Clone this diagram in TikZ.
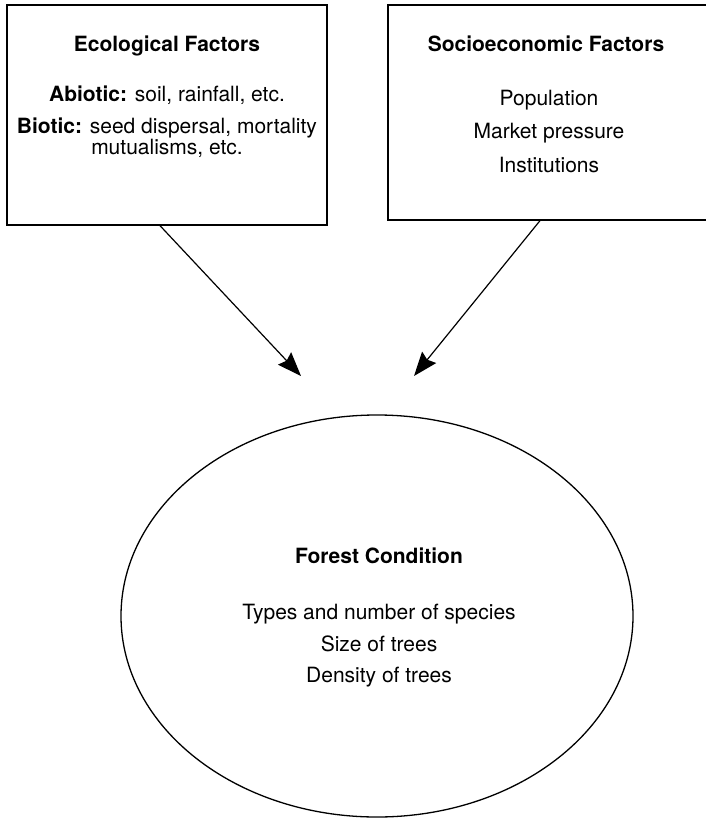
\documentclass[tikz,border=0pt]{standalone}
\usepackage{fontspec}
\setmainfont{TeX Gyre Heros}
\usetikzlibrary{arrows.meta,shapes.geometric}
\begin{document}
\begin{tikzpicture}[x=1pt,y=-1pt,
  boxstyle/.style={draw=black,line width=1.3pt,rectangle,inner sep=0pt},
  ovalstyle/.style={draw=black,line width=1.3pt,ellipse,inner sep=0pt},
  txt/.style={anchor=base,inner sep=0pt,font=\fontsize{21}{25}\selectfont},
  ttl/.style={txt,font=\fontsize{21}{25}\selectfont\bfseries},
  arr/.style={line width=1.2pt,-{Stealth[length=24pt,width=18pt,inset=3pt]}}]
\useasboundingbox (0,0) rectangle (706,819);
\clip (0,0) rectangle (706,819);
% boxes
\node[boxstyle,minimum width=320pt,minimum height=220pt] (eco) at (167,115) {};
\node[boxstyle,minimum width=322pt,minimum height=215pt] (soc) at (549,112.5) {};
\node[ovalstyle,minimum width=512pt,minimum height=402pt] (forest) at (377,616) {};
% left box text
\node[ttl] (ecot) at (167,51) {Ecological Factors};
\node[txt] (abio) at (167,101) {\textbf{Abiotic:} soil, rainfall, etc.};
\node[txt] (bio1) at (167,133) {\textbf{Biotic:} seed dispersal, mortality};
\node[txt] (bio2) at (167,154) {mutualisms, etc.};
% right box text
\node[ttl] (soct) at (546,51) {Socioeconomic Factors};
\node[txt] (pop) at (549,105) {Population};
\node[txt] (mkt) at (549,138.5) {Market pressure};
\node[txt] (inst) at (549,172) {Institutions};
% ellipse text
\node[ttl] (fct) at (379,563) {Forest Condition};
\node[txt] (typ) at (379,619) {Types and number of species};
\node[txt] (siz) at (379,651) {Size of trees};
\node[txt] (den) at (379,682.5) {Density of trees};
% arrows
\coordinate (tipl) at (301,376);
\coordinate (tipr) at (414,376);
\draw[arr] ([xshift=-7pt]eco.south) -- (tipl);
\draw[arr] ([xshift=-9pt]soc.south) -- (tipr);
\end{tikzpicture}
\end{document}
